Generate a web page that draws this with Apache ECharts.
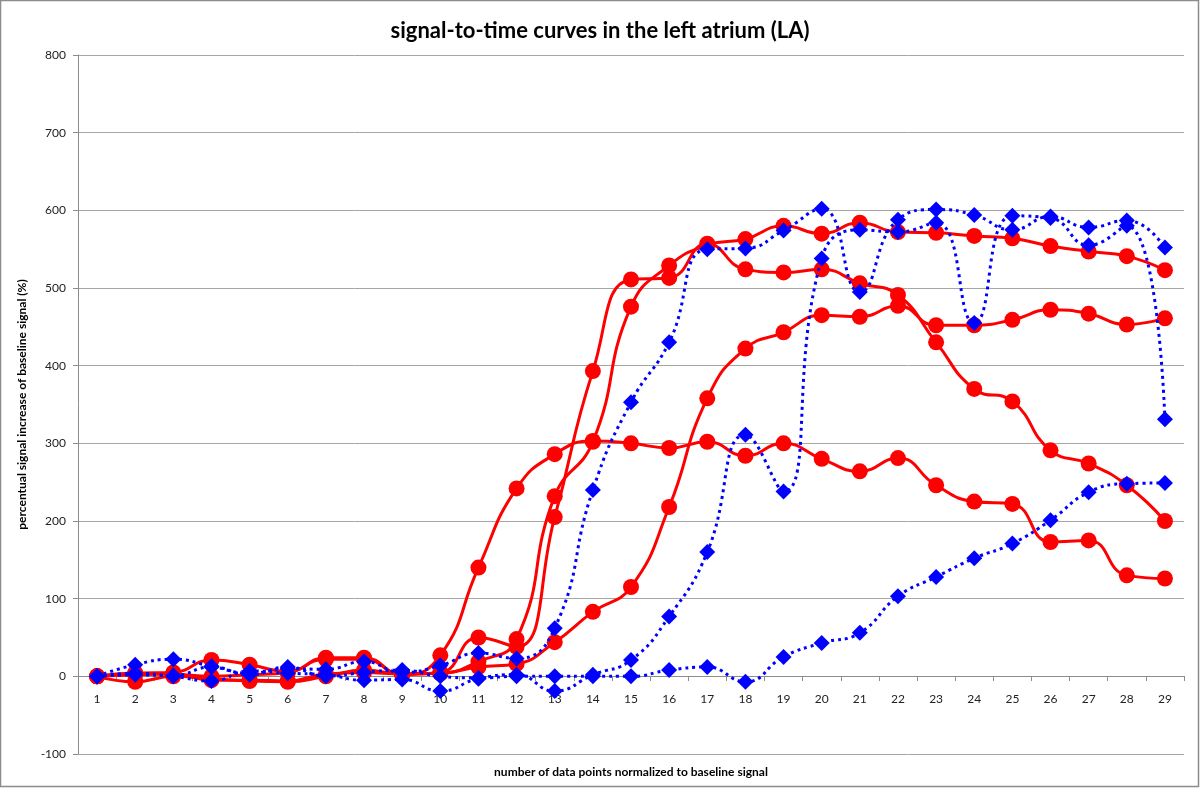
<!DOCTYPE html>
<html>
<head>
<meta charset="utf-8">
<script src="https://cdn.jsdelivr.net/npm/echarts@6/dist/echarts.min.js"></script>
<style>
  html, body { margin: 0; padding: 0; background: #fff; }
  #chart { width: 1200px; height: 789px; }
</style>
</head>
<body>
<div id="chart"></div>
<script>
const categories = Array.from({ length: 29 }, (_, i) => String(i + 1));

// red curves (solid, circles)
const redEarly = [0, 4, 5, 21, 15, 6, 24, 24, 2, 27, 140, 242, 286, 303, 300, 294, 302, 284, 300, 280, 264, 281, 246, 225, 222, 173, 175, 130, 126];
const redFastA = [0, -7, 0, -3, -6, -7, 0, 8, 3, 5, 50, 38, 205, 393, 511, 513, 557, 524, 520, 524, 506, 491, 430, 370, 354, 291, 274, 246, 200];
const redFastB = [0, 4, 3, 0, 2, 5, 22, 22, 3, 4, 19, 48, 232, 302, 476, 529, 555, 563, 580, 570, 584, 572, 571, 567, 564, 554, 547, 541, 523];
const redSlow = [0, 2, 3, -5, -5, -6, 3, 5, 3, 4, 12, 16, 44, 83, 115, 218, 358, 422, 443, 465, 463, 477, 452, 452, 459, 472, 467, 453, 461];

// blue curves (dotted, diamonds)
const blueFast = [0, 15, 22, 13, 4, 10, 9, 19, 5, 14, 30, 23, 62, 240, 353, 430, 550, 551, 574, 602, 495, 588, 601, 594, 575, 592, 578, 587, 552];
const blueMid = [0, 4, 0, -6, 7, 4, 2, -5, -4, -19, -3, 2, -19, 2, 21, 77, 160, 311, 238, 538, 575, 572, 584, 455, 593, 590, 555, 580, 331];
const blueSlow = [0, 2, 1, 12, 2, 12, 0, 5, 8, 0, -2, 0, 0, 0, 0, 8, 12, -7, 25, 43, 56, 103, 128, 152, 171, 201, 237, 248, 249];

const font = 'Lato, "Liberation Sans", sans-serif';

const redSeries = (data) => ({
  type: 'line',
  data,
  smooth: 0.5,
  symbol: 'circle',
  symbolSize: 16,
  itemStyle: { color: '#ff0000' },
  lineStyle: { color: '#ff0000', width: 3 },
  z: 2
});

const blueSeries = (data) => ({
  type: 'line',
  data,
  smooth: 0.5,
  symbol: 'diamond',
  symbolSize: 16,
  itemStyle: { color: '#0000ff' },
  lineStyle: { color: '#0000ff', width: 3, type: [3, 4] },
  z: 3
});

const chart = echarts.init(document.getElementById('chart'));
chart.setOption({
  backgroundColor: '#fff',
  animation: false,
  title: {
    text: 'signal-to-time curves in the left atrium (LA)',
    left: 'center',
    top: 15,
    textStyle: { fontFamily: font, fontSize: 22, fontWeight: 'bold', color: '#000' }
  },
  graphic: [{
    type: 'rect',
    shape: { x: 0.5, y: 0.5, width: 1198, height: 786 },
    style: { fill: 'none', stroke: '#8c8c8c', lineWidth: 1.5 },
    silent: true
  }],
  grid: { left: 78, right: 16, top: 55, bottom: 35, containLabel: false, outerBoundsMode: 'none' },
  xAxis: {
    type: 'category',
    data: categories,
    boundaryGap: true,
    // the category axis sits on the value 0 line (100 units above -100)
    offset: -78,
    name: 'number of data points normalized to baseline signal',
    nameLocation: 'middle',
    nameGap: 90,
    nameTextStyle: { fontFamily: font, fontSize: 12, fontWeight: 'bold', color: '#000' },
    axisLine: { onZero: false, lineStyle: { color: '#8c8c8c', width: 1 } },
    axisTick: { show: true, length: 5, lineStyle: { color: '#8c8c8c' } },
    axisLabel: { fontFamily: font, fontSize: 12, color: '#222', margin: 17 },
    splitLine: { show: false }
  },
  yAxis: {
    type: 'value',
    min: -100,
    max: 800,
    interval: 100,
    name: 'percentual signal increase of baseline signal (%)',
    nameLocation: 'middle',
    nameGap: 50,
    nameTextStyle: { fontFamily: font, fontSize: 12, fontWeight: 'bold', color: '#000' },
    axisLine: { show: true, lineStyle: { color: '#8c8c8c', width: 1 } },
    axisTick: { show: true, length: 5, lineStyle: { color: '#8c8c8c' } },
    axisLabel: { fontFamily: font, fontSize: 12, color: '#222', margin: 12 },
    splitLine: { lineStyle: { color: '#a6a6a6', width: 1 } }
  },
  series: [
    redSeries(redEarly),
    redSeries(redFastA),
    redSeries(redFastB),
    redSeries(redSlow),
    blueSeries(blueFast),
    blueSeries(blueMid),
    blueSeries(blueSlow)
  ]
});
</script>
</body>
</html>
